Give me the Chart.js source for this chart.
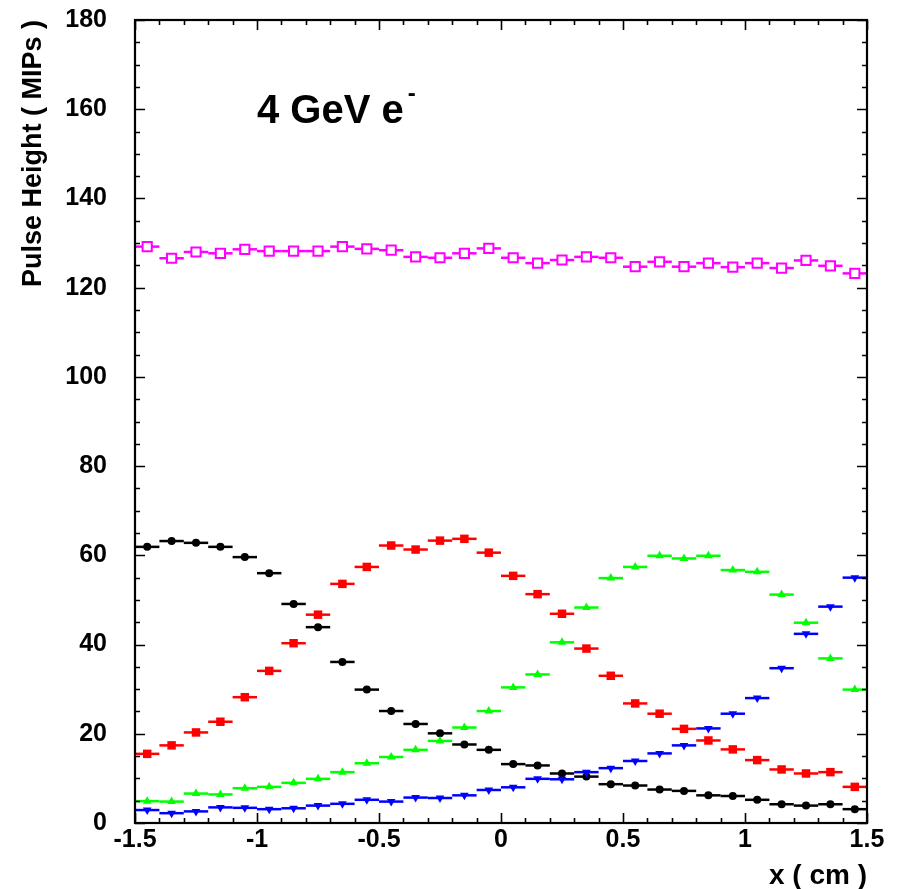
<!DOCTYPE html>
<html>
<head>
<meta charset="utf-8">
<script src="https://cdn.jsdelivr.net/npm/chart.js@4/dist/chart.umd.min.js"></script>
<style>
  html, body { margin: 0; padding: 0; background: #fff; }
  canvas { display: block; }
</style>
</head>
<body>
<canvas id="c" width="897" height="889"></canvas>
<script>
// ---- data (bin centres in cm, pulse heights in MIPs) ----
const xBins = [-1.45,-1.35,-1.25,-1.15,-1.05,-0.95,-0.85,-0.75,-0.65,-0.55,-0.45,-0.35,-0.25,-0.15,-0.05,
                0.05, 0.15, 0.25, 0.35, 0.45, 0.55, 0.65, 0.75, 0.85, 0.95, 1.05, 1.15, 1.25, 1.35, 1.45];
const binHalfWidth = 0.05;

const blackSeries = [61.9,63.2,62.8,61.9,59.6,56.0,49.1,43.9,36.1,29.9,25.1,22.2,20.1,17.6,16.4,
                     13.2,12.9,11.1,10.4,8.7,8.4,7.5,7.2,6.2,6.05,5.2,4.2,3.9,4.2,3.1];
const redSeries   = [15.5,17.4,20.3,22.7,28.2,34.1,40.3,46.7,53.6,57.4,62.2,61.3,63.3,63.7,60.6,
                     55.4,51.3,46.9,39.1,33.0,26.8,24.5,21.1,18.5,16.5,14.1,12.0,11.1,11.4,8.1];
const greenSeries = [4.9,4.8,6.6,6.4,7.8,8.1,9.0,9.9,11.4,13.4,14.8,16.4,18.4,21.4,25.1,
                     30.4,33.3,40.5,48.3,54.9,57.4,59.9,59.3,59.9,56.7,56.3,51.2,44.9,36.9,29.9];
const blueSeries  = [2.9,2.2,2.6,3.5,3.4,3.1,3.3,3.9,4.3,5.2,4.8,5.7,5.6,6.2,7.4,
                     8.0,9.9,9.8,11.4,12.3,13.9,15.6,17.4,21.2,24.5,28.0,34.7,42.4,48.5,55.0];
const magentaSeries = [129.2,126.6,128.0,127.7,128.6,128.2,128.2,128.2,129.2,128.7,128.4,126.9,126.7,127.7,128.8,
                       126.7,125.5,126.2,126.9,126.7,124.7,125.8,124.7,125.5,124.6,125.5,124.4,126.1,124.9,123.2];

const xTickValues = [-1.5,-1,-0.5,0,0.5,1,1.5];
const yTickValues = [0,20,40,60,80,100,120,140,160,180];

const xTitle = 'x ( cm )';
const yTitle = 'Pulse Height ( MIPs )';
const labelMain = '4 GeV e';
const labelSup = '-';

// ---- helpers ----
const FONT = '"Liberation Sans", Arial, Helvetica, sans-serif';
function pts(ys) { return xBins.map((x, i) => ({ x: x, y: ys[i] })); }

function makeSet(ys, color, style, radius, opts) {
  return Object.assign({
    data: pts(ys),
    showLine: false,
    pointStyle: style,
    pointRadius: radius,
    pointHoverRadius: radius,
    pointBackgroundColor: color,
    pointBorderColor: color,
    pointBorderWidth: 0,
    errColor: color,
    clip: false
  }, opts || {});
}

const datasets = [
  makeSet(magentaSeries, '#ff00ff', 'rect', 6.5, { pointBackgroundColor: '#ffffff', pointBorderWidth: 2 }),
  makeSet(blueSeries, '#0000ff', 'triangle', 5.0, { pointRotation: 180 }),
  makeSet(greenSeries, '#00ff00', 'triangle', 5.0),
  makeSet(redSeries, '#ff0000', 'rect', 6.0),
  makeSet(blackSeries, '#000000', 'circle', 4.0)
];

// horizontal error bars (bin width) drawn through the scales
const errorBarPlugin = {
  id: 'errbars',
  beforeDatasetsDraw(chart) {
    const ctx = chart.ctx, xs = chart.scales.x, ys = chart.scales.y;
    ctx.save();
    ctx.lineWidth = 2.5;
    chart.data.datasets.forEach(ds => {
      ctx.strokeStyle = ds.errColor;
      ds.data.forEach(p => {
        const x0 = xs.getPixelForValue(Math.max(p.x - binHalfWidth, xs.min));
        const x1 = xs.getPixelForValue(Math.min(p.x + binHalfWidth, xs.max));
        const y = ys.getPixelForValue(p.y);
        ctx.beginPath();
        ctx.moveTo(x0, y);
        ctx.lineTo(x1, y);
        ctx.stroke();
      });
    });
    ctx.restore();
  }
};

// frame with inward ticks on all four sides
const framePlugin = {
  id: 'frame',
  afterDatasetsDraw(chart) {
    const ctx = chart.ctx, a = chart.chartArea, xs = chart.scales.x, ys = chart.scales.y;
    ctx.save();
    ctx.strokeStyle = '#000';
    ctx.lineWidth = 1.6;
    ctx.beginPath();
    for (let i = Math.round(xs.min * 10); i <= Math.round(xs.max * 10); i++) {
      const v = i / 10;
      const px = Math.round(xs.getPixelForValue(v)) + 0.5;
      const len = (i % 5 === 0) ? 10 : 5;
      ctx.moveTo(px, a.bottom); ctx.lineTo(px, a.bottom - len);
      ctx.moveTo(px, a.top); ctx.lineTo(px, a.top + len);
    }
    for (let v = ys.min; v <= ys.max; v += 5) {
      const py = Math.round(ys.getPixelForValue(v)) + 0.5;
      const len = (v % 20 === 0) ? 10 : 5;
      ctx.moveTo(a.left, py); ctx.lineTo(a.left + len, py);
      ctx.moveTo(a.right, py); ctx.lineTo(a.right - len, py);
    }
    ctx.stroke();
    ctx.lineWidth = 2.2;
    ctx.strokeRect(a.left, a.top, a.right - a.left, a.bottom - a.top);
    ctx.restore();
  }
};

// in-plot label "4 GeV e-"
const labelPlugin = {
  id: 'label',
  afterDraw(chart) {
    const ctx = chart.ctx;
    ctx.save();
    ctx.fillStyle = '#000';
    ctx.textAlign = 'left';
    ctx.textBaseline = 'alphabetic';
    ctx.font = 'bold 40px ' + FONT;
    const x0 = 257, y0 = 123;
    ctx.fillText(labelMain, x0, y0);
    const w = ctx.measureText(labelMain).width;
    ctx.font = 'bold 24px ' + FONT;
    ctx.fillText(labelSup, x0 + w + 4, 101);
    ctx.restore();
  }
};

const tickFont = { family: FONT, size: 25, weight: 'bold' };

new Chart(document.getElementById('c'), {
  type: 'scatter',
  data: { datasets: datasets },
  options: {
    responsive: false,
    animation: false,
    events: [],
    layout: { padding: { left: 0, right: 30, top: 20, bottom: 0 } },
    plugins: { legend: { display: false }, tooltip: { enabled: false } },
    scales: {
      x: {
        type: 'linear', min: -1.5, max: 1.5,
        grid: { display: false, drawTicks: false },
        border: { display: false },
        afterBuildTicks: s => { s.ticks = xTickValues.map(v => ({ value: v })); },
        afterFit: s => { s.height = 66; s.paddingLeft = 0; s.paddingRight = 0; },
        ticks: { font: tickFont, color: '#000', padding: 2, maxRotation: 0, autoSkip: false,
                 callback: v => String(v) },
        title: { display: true, text: xTitle, align: 'end', color: '#000',
                 font: { family: FONT, size: 28, weight: 'bold', lineHeight: 1 }, padding: { top: 0, bottom: -1 } }
      },
      y: {
        type: 'linear', min: 0, max: 180,
        grid: { display: false, drawTicks: false },
        border: { display: false },
        afterBuildTicks: s => { s.ticks = yTickValues.map(v => ({ value: v })); },
        afterFit: s => { s.width = 135; s.paddingTop = 0; s.paddingBottom = 0; },
        ticks: { font: tickFont, color: '#000', padding: 28, autoSkip: false,
                 callback: v => String(v) },
        title: { display: true, text: yTitle, align: 'end', color: '#000',
                 font: { family: FONT, size: 27, weight: 'bold', lineHeight: 1 }, padding: { top: 20, bottom: 0 } }
      }
    }
  },
  plugins: [errorBarPlugin, framePlugin, labelPlugin]
});
</script>
</body>
</html>
